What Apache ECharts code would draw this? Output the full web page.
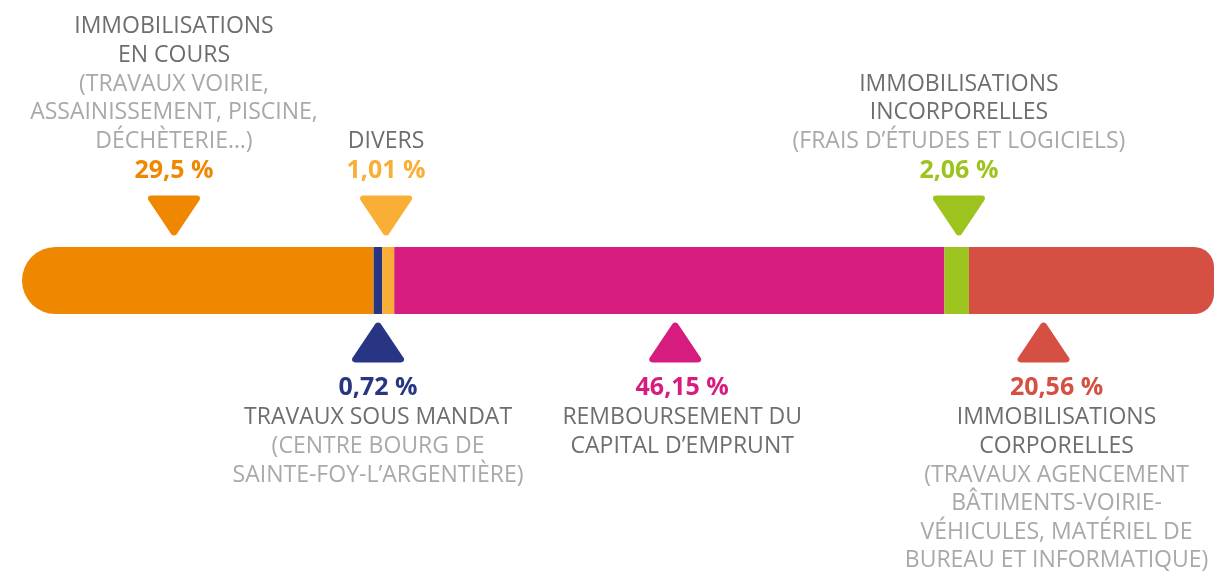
<!DOCTYPE html>
<html>
<head>
<meta charset="utf-8">
<script src="https://cdn.jsdelivr.net/npm/echarts@6/dist/echarts.min.js"></script>
<style>
  html, body { margin: 0; padding: 0; background: #fff; }
  #chart { width: 1214px; height: 571px; }
</style>
</head>
<body>
<div id="chart"></div>
<script>
// parts of the investment spending, left to right along the bar
const parts = ['IMMOBILISATIONS EN COURS', 'TRAVAUX SOUS MANDAT', 'DIVERS',
  'REMBOURSEMENT DU CAPITAL D’EMPRUNT', 'IMMOBILISATIONS INCORPORELLES', 'IMMOBILISATIONS CORPORELLES'];
const shares = [29.5, 0.72, 1.01, 46.15, 2.06, 20.56];
const shareLabels = ['29,5 %', '0,72 %', '1,01 %', '46,15 %', '2,06 %', '20,56 %'];
const titleLines = [
  ['IMMOBILISATIONS', 'EN COURS'],
  ['TRAVAUX SOUS MANDAT'],
  ['DIVERS'],
  ['REMBOURSEMENT DU', 'CAPITAL D’EMPRUNT'],
  ['IMMOBILISATIONS', 'INCORPORELLES'],
  ['IMMOBILISATIONS', 'CORPORELLES']
];
const noteLines = [
  ['(TRAVAUX VOIRIE,', 'ASSAINISSEMENT, PISCINE,', 'DÉCHÈTERIE…)'],
  ['(CENTRE BOURG DE', 'SAINTE-FOY-L’ARGENTIÈRE)'],
  [],
  [],
  ['(FRAIS D’ÉTUDES ET LOGICIELS)'],
  ['(TRAVAUX AGENCEMENT', 'BÂTIMENTS-VOIRIE-', 'VÉHICULES, MATÉRIEL DE', 'BUREAU ET INFORMATIQUE)']
];
// where each pointer sits along the bar (in %), and whether it is above the bar
const pointerAt = [12.75, 29.87, 30.54, 54.8, 78.6, 85.7];
const pointerAbove = [true, false, true, false, true, false];

const colors = ['#F08700', '#283582', '#F9AE35', '#D61D7F', '#9CC31E', '#D54F42'];
const FONT = 'Open Sans';
// text blocks under the magenta and red pointers are shifted a bit to the right
const textShift = [0, 0, 0, 7, 0, 13];

const TRI_UP = 'path://M45 5Q50 0 55 5L98 72Q100 80 92 80L8 80Q0 80 2 72Z';
const TRI_DOWN = 'path://M8 0L92 0Q100 0 98 8L55 75Q50 80 45 75L2 8Q0 0 8 0Z';

const chart = echarts.init(document.getElementById('chart'));

const barSeries = shares.map((v, i) => {
  let radius = 0;
  if (i === 0) radius = [34, 0, 0, 34];
  if (i === shares.length - 1) radius = [0, 20, 20, 0];
  return {
    name: parts[i],
    type: 'bar',
    stack: 'total',
    barWidth: 67,
    data: [v],
    itemStyle: { color: colors[i], borderRadius: radius },
    silent: true
  };
});

function labelText(i) {
  const pct = '{p' + i + '|' + shareLabels[i] + '}';
  const title = titleLines[i].map(t => '{t|' + t + '}');
  const notes = noteLines[i].map(t => '{n|' + t + '}');
  if (pointerAbove[i]) return title.concat(notes, [pct]).join('\n');
  return [pct].concat(title, notes).join('\n');
}

const rich = {
  t: { fontFamily: FONT, fontSize: 23, color: '#6E6E6E', lineHeight: 28.6, align: 'center' },
  n: { fontFamily: FONT, fontSize: 23, color: '#A9A9A9', lineHeight: 28.6, align: 'center' }
};
colors.forEach((c, i) => {
  rich['p' + i] = { fontFamily: FONT, fontSize: 25, fontWeight: 'bold', color: c, lineHeight: 31, align: 'center' };
});

const pointerSeries = {
  type: 'scatter',
  silent: true,
  z: 5,
  data: pointerAt.map((x, i) => ({
    value: [x, 'bar'],
    symbol: pointerAbove[i] ? TRI_DOWN : TRI_UP,
    symbolSize: [52, 40],
    symbolOffset: [0, pointerAbove[i] ? -65 : 62],
    itemStyle: { color: colors[i], opacity: 1 },
    label: {
      show: true,
      position: pointerAbove[i] ? 'top' : 'bottom',
      distance: pointerAbove[i] ? 9 : 10,
      offset: [textShift[i], 0],
      formatter: labelText(i),
      rich: rich
    }
  }))
};

const option = {
  animation: false,
  grid: { left: 22, right: 0, top: 247, height: 67 },
  xAxis: { type: 'value', min: 0, max: 100, show: false },
  yAxis: { type: 'category', data: ['bar'], show: false },
  series: barSeries.concat([pointerSeries])
};

chart.setOption(option);
</script>
</body>
</html>
